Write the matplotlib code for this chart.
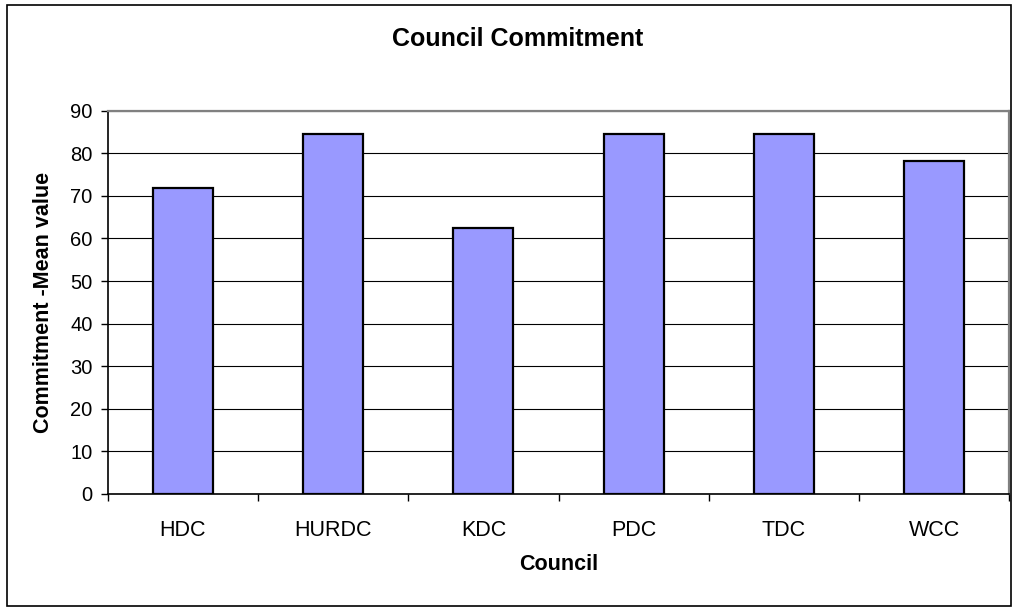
import matplotlib.pyplot as plt
from matplotlib.patches import Rectangle

plt.rcParams['font.family'] = ['Liberation Sans', 'DejaVu Sans']

councils = ['HDC', 'HURDC', 'KDC', 'PDC', 'TDC', 'WCC']
commitment = [71.9, 84.5, 62.4, 84.5, 84.5, 78.3]
y_ticks = list(range(0, 100, 10))

fig = plt.figure(figsize=(10.17, 6.07), dpi=100)
# outer chart border
fig.patches.append(Rectangle((0.0065, 0.002), 0.988, 0.989, transform=fig.transFigure,
                             fill=False, edgecolor='black', linewidth=1.2))

ax = fig.add_axes([0.1059, 0.1862, 0.8867, 0.6314])
x = range(len(councils))
ax.bar(x, commitment, width=0.4, color='#9999ff', edgecolor='black', linewidth=1.6, zorder=3)

ax.set_xlim(-0.5, len(councils) - 0.5)
ax.set_ylim(0, 90)
ax.set_yticks(y_ticks)
ax.yaxis.grid(True, color='black', linewidth=0.8, zorder=0)
ax.set_xticks(list(x))
ax.set_xticklabels(councils, fontsize=15.5)
ax.tick_params(axis='x', length=0, pad=19)
ax.set_xticks([i - 0.5 for i in range(len(councils) + 1)], minor=True)
ax.tick_params(axis='x', which='minor', length=5, width=1, direction='out')
ax.tick_params(axis='y', labelsize=14.5, length=5, width=1, direction='out', pad=6)

for s in ['top', 'right']:
    ax.spines[s].set_color('#808080')
    ax.spines[s].set_linewidth(1.6)
for s in ['left', 'bottom']:
    ax.spines[s].set_color('black')
    ax.spines[s].set_linewidth(1.2)

fig.text(0.509, 0.9357, 'Council Commitment', ha='center', va='center', fontsize=18, fontweight='bold')
fig.text(0.549, 0.0692, 'Council', ha='center', va='center', fontsize=15.5, fontweight='bold')
fig.text(0.0423, 0.5025, 'Commitment -Mean value', ha='center', va='center', rotation=90,
         fontsize=15.5, fontweight='bold')

fig.savefig('out.png', dpi=100)
